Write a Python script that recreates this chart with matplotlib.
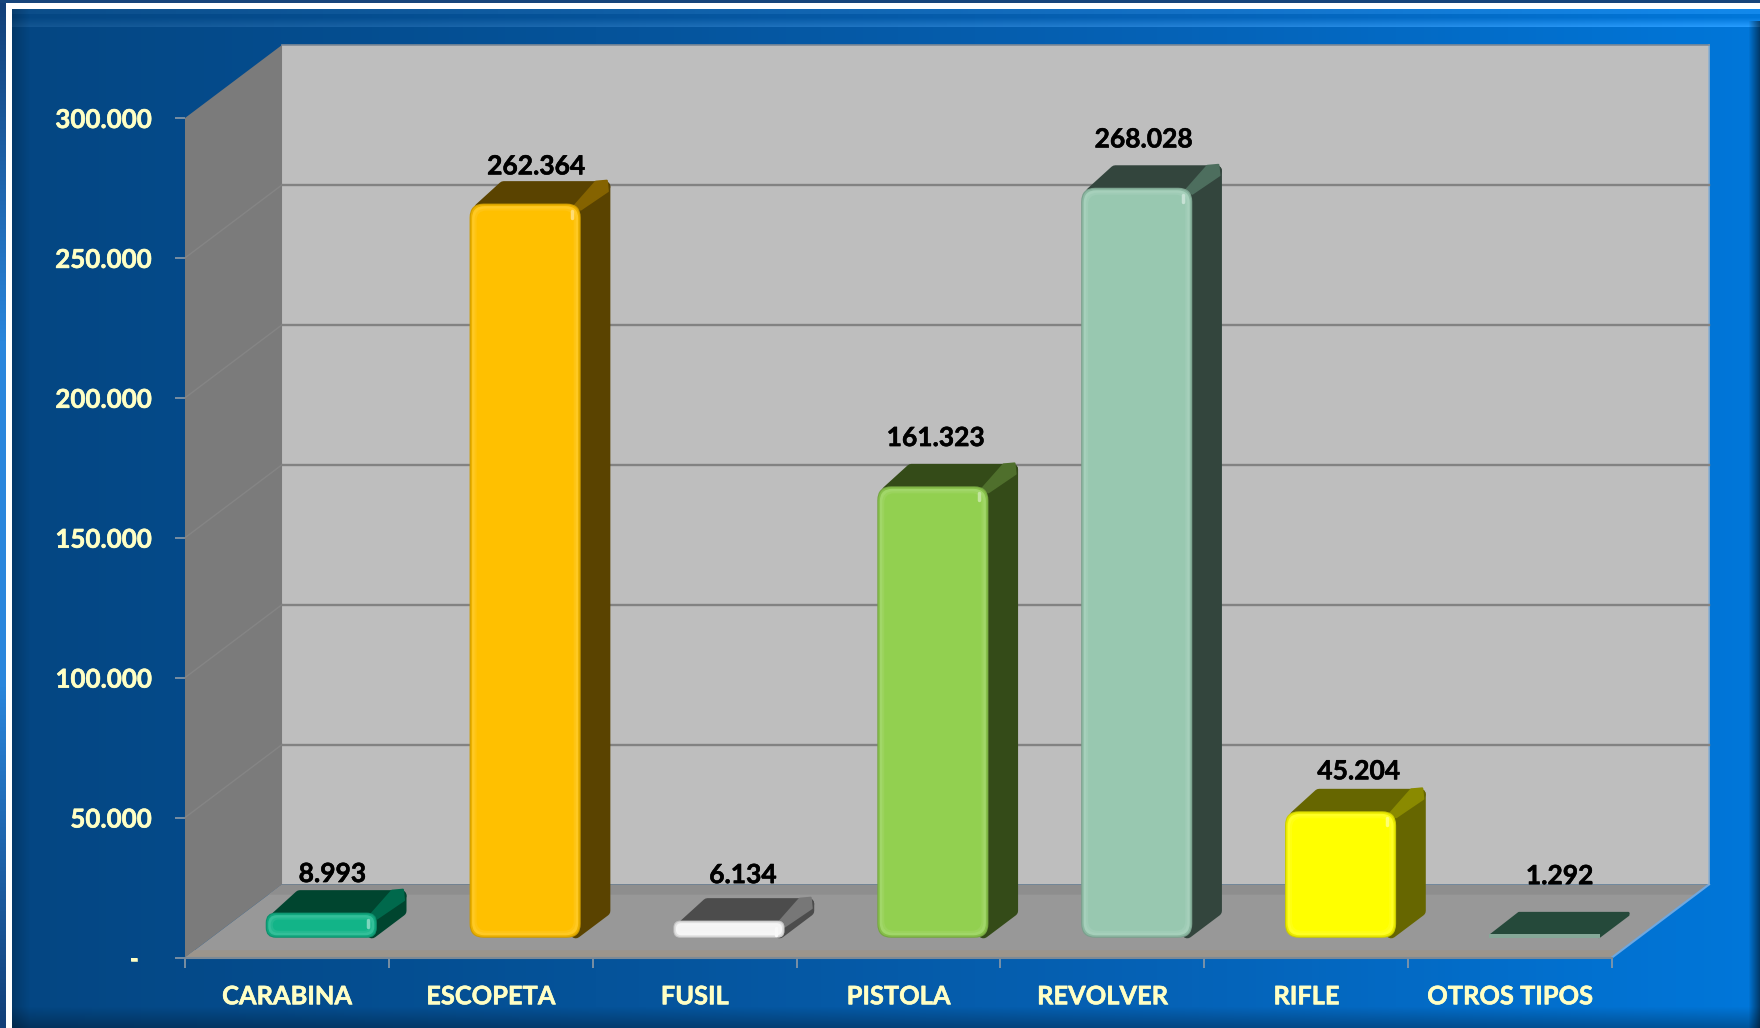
import matplotlib
matplotlib.use("Agg")
import matplotlib.pyplot as plt
import matplotlib.patheffects as pe
from matplotlib.colors import LinearSegmentedColormap, to_rgb
from matplotlib.patches import FancyBboxPatch, Polygon
from matplotlib.ticker import FuncFormatter
import numpy as np

plt.rcParams['font.family'] = ['Lato', 'DejaVu Sans']
plt.rcParams['font.weight'] = 'bold'

categories = ["CARABINA", "ESCOPETA", "FUSIL", "PISTOLA", "REVOLVER", "RIFLE", "OTROS TIPOS"]
values = [8993, 262364, 6134, 161323, 268028, 45204, 1292]
y_ticks = [0, 50000, 100000, 150000, 200000, 250000, 300000]
face_colors = ["#12b488", "#ffc000", "#f4f4f4", "#92d050", "#98c8b0", "#ffff00", "#86a898"]
dark_colors = ["#00452f", "#5a4300", "#4c4c4c", "#344b18", "#33453d", "#666600", "#25493a"]
rim_colors = ["#00694c", "#856300", "#777777", "#4f6f2c", "#4d6e5e", "#8a8a00", "#25493a"]
# label nudges in points, the original places them unevenly
label_dx = [8, 8, 10, 2, 5, 13, 11]
label_lift = [12, 11, 17, 19, 19, 13, 26]

W, H = 1760, 1028
cream = "#ffffc4"

# depth of the box, in data units (one category wide, 300.000 tall)
DX = 0.476
DY = 26100
BAR_D0 = 0.27
BAR_D1 = 0.57
BAR_W = 0.545
BAR_SHIFT = 0.04


def proj(x, y, d):
    return (x + d * DX, y + d * DY)


def mix(c, other, t):
    a = np.array(to_rgb(c))
    b = np.array(to_rgb(other))
    return tuple(a + (b - a) * t)


def dotted(v):
    return f"{int(v):,}".replace(",", ".")


fig = plt.figure(figsize=(W / 100, H / 100), dpi=100, facecolor="white")

# background frame
bg = fig.add_axes([0, 0, 1, 1])
bg.axis("off")

cm = LinearSegmentedColormap.from_list("panel", ["#044682", "#05539a", "#0563b8", "#0078dc"])
xx, yy = np.meshgrid(np.linspace(0, 1, W), np.linspace(0, 1, H))
panel = cm(np.clip(xx * 0.98, 0, 1))[:, :, :3]
ypx = yy * (H - 1)
xpx = xx * (W - 1)
# top bevel
lift = np.where(ypx < 14, 0.07, 0.0) + np.where((ypx >= 17) & (ypx < 27), 0.16 * (ypx - 17) / 10, 0.0)
panel = panel + lift[:, :, None] * (0.4 + 0.6 * xx[:, :, None])
# edges get darker
shade = np.ones_like(xx)
shade *= np.where(xpx < 30, 0.8 + 0.2 * (xpx - 12) / 18, 1.0)
shade *= np.where((xpx > 1748) & (ypx > 20), 1 - 0.55 * (xpx - 1748) / 12, 1.0)
shade *= np.where(ypx > 1006, 1 - 0.3 * (ypx - 1006) / 22, 1.0)
panel = np.clip(panel * shade[:, :, None], 0, 1)
# outer strip and white border
strip = LinearSegmentedColormap.from_list("o", ["#123f78", "#2a86dc", "#2a86dc", "#123f78"])
panel[:, :6] = strip(yy[:, :6])[:, :, :3]
panel[:3, :] = to_rgb("#17457c")
panel[3:9, 6:] = 1.0
panel[3:, 6:12] = 1.0
bg.imshow(panel, extent=[0, W, H, 0], aspect="auto", interpolation="nearest")

# main axes = front plane of the 3d box
ax = fig.add_axes([185 / W, 1 - 957.5 / H, (1612 - 185) / W, (957.5 - 118) / H])
ax.patch.set_alpha(0)
ax.set_xlim(0, 7)
ax.set_ylim(0, 300000)
for s in ax.spines.values():
    s.set_visible(False)

n = len(categories)
back_bl = proj(0, 0, 1)
back_br = proj(n, 0, 1)
back_tl = proj(0, 300000, 1)
back_tr = proj(n, 300000, 1)

ax.add_patch(Polygon([back_bl, back_br, back_tr, back_tl], fc="#bebebe", ec="none", clip_on=False, zorder=1))
ax.add_patch(Polygon([(0, 0), back_bl, back_tl, (0, 300000)], fc="#7b7b7b", ec="none", clip_on=False, zorder=1))
ax.add_patch(Polygon([(0, 0), (n, 0), back_br, back_bl], fc="#989898", ec="none", clip_on=False, zorder=2))
# band at the back of the floor
ax.add_patch(Polygon([back_bl, back_br, proj(n, 0, 0.86), proj(0, 0, 0.86)], fc="#8e8e8e", ec="none",
                     clip_on=False, zorder=2))
# front edge of the floor
ax.add_patch(Polygon([(0, 0), (n, 0), proj(n, 0, 0.1), proj(0, 0, 0.1)], fc="#9c958c", ec="none",
                     clip_on=False, zorder=2))
ax.plot([0, n], [0, 0], color="#7d8a96", lw=1.5, clip_on=False, zorder=3)
ax.plot([n, back_br[0]], [0, back_br[1]], color="#6fa8e0", lw=1.5, clip_on=False, zorder=2)
ax.plot([back_br[0], back_tr[0]], [back_br[1], back_tr[1]], color="#8fb0d0", lw=1.2, clip_on=False, zorder=2)
ax.plot([back_tl[0], back_tr[0]], [back_tl[1], back_tr[1]], color="#7f8a96", lw=1.2, clip_on=False, zorder=2)

for v in y_ticks[1:-1]:
    p0 = proj(0, v, 0)
    p1 = proj(0, v, 1)
    p2 = proj(n, v, 1)
    ax.plot([p0[0], p1[0]], [p0[1], p1[1]], color="#858585", lw=1, clip_on=False, zorder=2)
    ax.plot([p1[0], p2[0]], [p1[1], p2[1]], color="#828282", lw=1.7, clip_on=False, zorder=2)

# px to data sizes for rounding
px_x = 7 / (1612 - 185)
px_y = 300000 / (957.5 - 118)

for i, (v, fc, dc, rc) in enumerate(zip(values, face_colors, dark_colors, rim_colors)):
    x0 = i + 0.5 - BAR_W / 2 + BAR_SHIFT
    x1 = x0 + BAR_W
    z = 5 + i * 0.1

    # side and top of the box, inset polygons with a wide round stroke give soft corners
    ins = 5 if v > 3000 else 1
    lw = 8 if v > 3000 else 2
    ix = ins * px_x
    iy = ins * px_y
    side = [proj(x1 - ix, iy, BAR_D0), proj(x1 - ix, iy, BAR_D1), proj(x1 - ix, v - iy, BAR_D1),
            proj(x1 - ix, v - iy, BAR_D0)]
    top = [proj(x0 + 2 * ix, v - iy, BAR_D0), proj(x1 - ix, v - iy, BAR_D0), proj(x1 - ix, v - iy, BAR_D1),
           proj(x0 + ix, v - iy, BAR_D1)]
    ax.add_patch(Polygon(side, fc=dc, ec=dc, lw=lw, joinstyle="round", clip_on=False, zorder=z))
    ax.add_patch(Polygon(top, fc=dc, ec=dc, lw=lw, joinstyle="round", clip_on=False, zorder=z))

    # lighter wedge between side and top
    if v > 3000:
        wedge = [proj(x1 - 6 * px_x, v - 2 * px_y, BAR_D0), proj(x1 - 14 * px_x, v, BAR_D1),
                 proj(x1 - 3 * px_x, v + 1 * px_y, BAR_D1), proj(x1, v - 8 * px_y, BAR_D1 - 0.02),
                 proj(x1, v - 6 * px_y, BAR_D0)]
        ax.add_patch(Polygon(wedge, fc=rc, ec=rc, lw=1.5, joinstyle="round", clip_on=False, zorder=z + 0.01))

    # front face, rounded, a few layers for the bevel
    x_f0, y_f0 = proj(x0, 0, BAR_D0)
    x_f1, y_f1 = proj(x1, v, BAR_D0)
    w = x_f1 - x_f0
    h = y_f1 - y_f0
    r = min(14 * px_x, h * 0.4 * px_x / px_y)
    asp = px_y / px_x
    if v < 3000:
        ax.add_patch(Polygon([(x_f0, y_f0), (x_f1, y_f0), (x_f1, y_f1), (x_f0, y_f1)], fc=fc, ec="none",
                             clip_on=False, zorder=z + 0.02))
    else:
        layers = [(0, mix(fc, "black", 0.2)), (1, mix(fc, "black", 0.08)), (2.5, mix(fc, "white", 0.14)),
                  (5, mix(fc, "white", 0.07)), (7, fc)]
        for inset, col in layers:
            jx = inset * px_x
            jy = inset * px_y
            ax.add_patch(FancyBboxPatch((x_f0 + jx, y_f0 + jy), w - 2 * jx, h - 2 * jy,
                                        boxstyle="round,pad=0,rounding_size=%f" % max(r - jx * 0.6, 1e-3),
                                        mutation_aspect=asp, fc=col, ec="none", clip_on=False,
                                        zorder=z + 0.02 + inset * 0.001))
        # shine near the top right corner
        ax.plot([x_f1 - 9 * px_x] * 2, [y_f1 - 7 * px_y, y_f1 - 14 * px_y], lw=2.5, solid_capstyle="round",
                color=mix(fc, "white", 0.45), clip_on=False, zorder=z + 0.05)

    # value label above the box
    lx = proj(i + 0.5 + BAR_SHIFT, v, BAR_D0)[0]
    ly = proj(i + 0.5 + BAR_SHIFT, v, BAR_D1)[1]
    ax.annotate(dotted(v), (lx, ly), xytext=(label_dx[i], label_lift[i]), textcoords="offset points",
                ha="center", va="center", fontsize=19, color="black", fontweight="bold",
                annotation_clip=False, zorder=20,
                path_effects=[pe.withStroke(linewidth=0.4, foreground="black")])

ax.set_xticks(range(n + 1))
ax.set_xticklabels([])
ax.set_xticks([i + 0.5 for i in range(n)], minor=True)
ax.set_xticklabels(categories, minor=True, fontsize=18.3, color=cream, fontweight="bold")
ax.tick_params(axis="x", which="major", length=7, width=1.2, color="#8d9aa6")
ax.tick_params(axis="x", which="minor", length=0, pad=20)
ax.set_yticks(y_ticks)
ax.yaxis.set_major_formatter(FuncFormatter(lambda v, _: "-  " if v == 0 else dotted(v)))
ax.tick_params(axis="y", length=7, width=1.2, color="#8d9aa6", labelsize=18.7, labelcolor=cream, pad=17)
for t in ax.get_xticklabels(minor=True) + ax.get_yticklabels():
    t.set_path_effects([pe.withStroke(linewidth=0.4, foreground=cream)])

fig.savefig("out.png", dpi=100, facecolor="white")
